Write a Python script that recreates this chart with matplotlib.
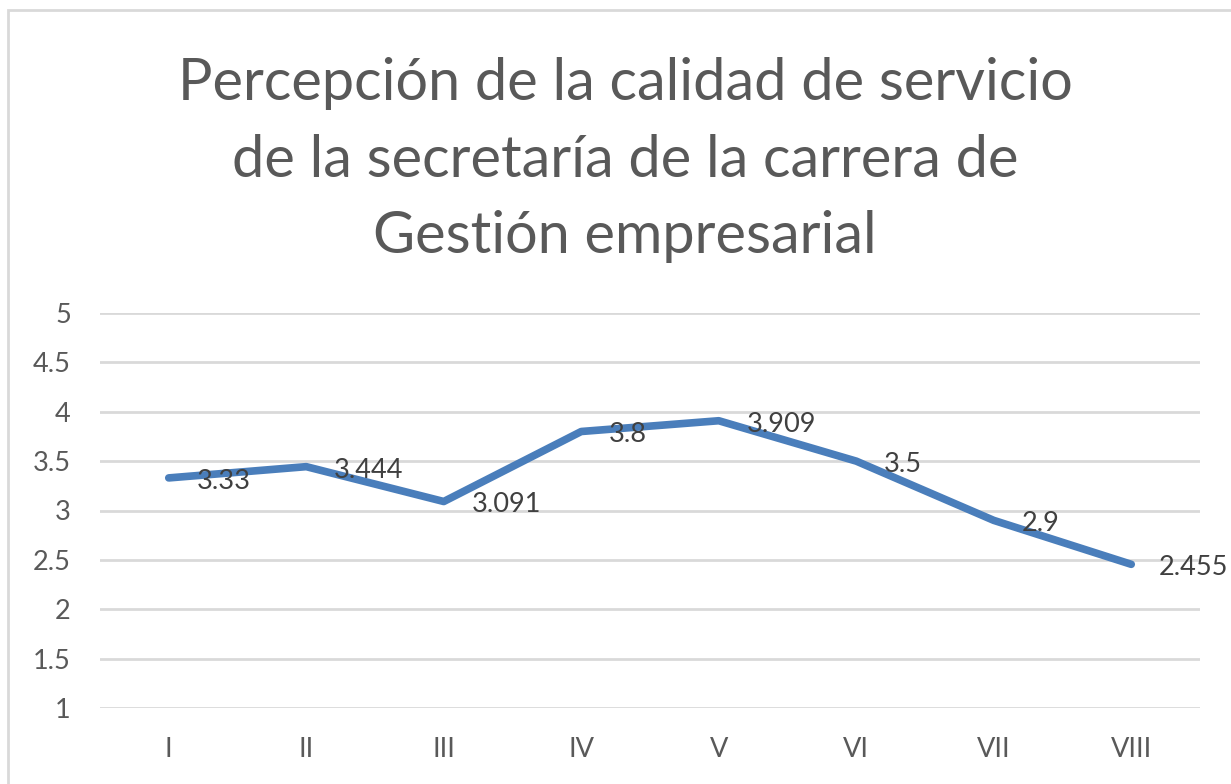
import matplotlib
matplotlib.use("Agg")
import matplotlib.pyplot as plt
from matplotlib.patches import Rectangle

plt.rcParams['font.family'] = ['Lato', 'DejaVu Sans']

semestres = ['I', 'II', 'III', 'IV', 'V', 'VI', 'VII', 'VIII']
valores = [3.33, 3.444, 3.091, 3.8, 3.909, 3.5, 2.9, 2.455]
etiquetas = ['3.33', '3.444', '3.091', '3.8', '3.909', '3.5', '2.9', '2.455']
yticks = [1, 1.5, 2, 2.5, 3, 3.5, 4, 4.5, 5]
ytick_labels = ['1', '1.5', '2', '2.5', '3', '3.5', '4', '4.5', '5']
titulo = "Percepción de la calidad de servicio\nde la secretaría de la carrera de\nGestión empresarial"

W, H = 1231, 784
fig = plt.figure(figsize=(W / 100, H / 100), dpi=100)

# chart frame (cut off at right and bottom like the screenshot)
fig.patches.append(Rectangle((8 / W, -0.1), 1.2, 1 - 10 / H + 0.1,
                             transform=fig.transFigure, fill=False,
                             edgecolor='#d9d9d9', linewidth=2))

ax = fig.add_axes([100 / W, 1 - 708 / H, 1100 / W, 395 / H])
x = list(range(len(semestres)))
ax.plot(x, valores, color='#4a7ebb', linewidth=5.5, solid_capstyle='round',
        solid_joinstyle='round', zorder=3)

for xi, v, t in zip(x, valores, etiquetas):
    ax.annotate(t, (xi, v), xytext=(20, -2.5), textcoords='offset points',
                ha='left', va='center', fontsize=19.5, color='#404040', zorder=4)

ax.set_xlim(-0.5, 7.5)
ax.set_ylim(1, 5)
ax.set_xticks(x)
ax.set_xticklabels(semestres)
ax.set_yticks(yticks)
ax.set_yticklabels(ytick_labels)
ax.tick_params(axis='both', length=0, labelsize=19.5, colors='#595959')
ax.tick_params(axis='y', pad=21)
ax.tick_params(axis='x', pad=21)
ax.grid(axis='y', color='#d9d9d9', linewidth=2)
ax.set_axisbelow(True)
for s in ax.spines.values():
    s.set_visible(False)

fig.text(625 / W, 1 - 57 / H, titulo, ha='center', va='top', fontsize=41.5,
         color='#595959', linespacing=1.55)

fig.savefig('out.png', dpi=100)
